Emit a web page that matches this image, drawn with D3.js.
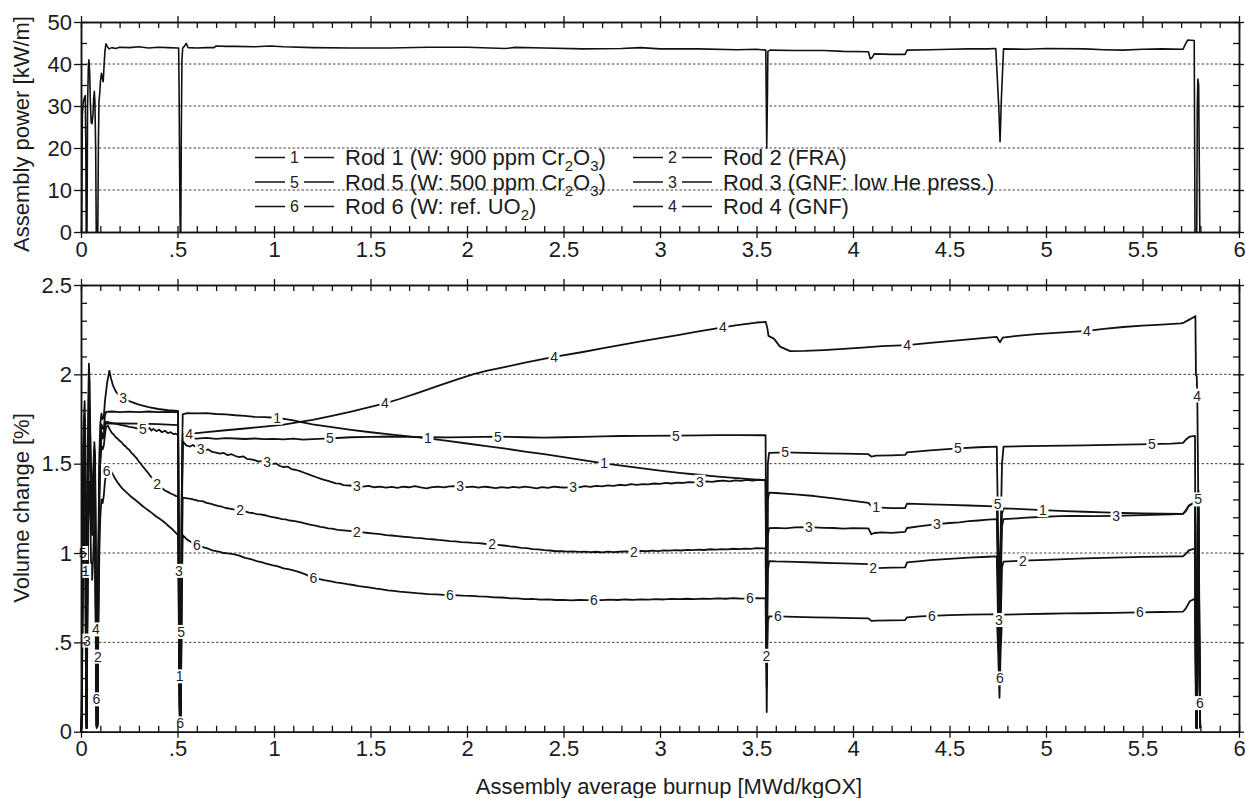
<!DOCTYPE html>
<html>
<head>
<meta charset="utf-8">
<script src="https://cdn.jsdelivr.net/npm/d3@7"></script>
<style>
  body { margin: 0; background: #fff; }
  svg text { font-family: "Liberation Sans", Arial, Helvetica, sans-serif; }
</style>
</head>
<body>
<svg id="chart" width="1246" height="798"></svg>
<script>
// ---------- tick labels ----------
const xTickValues = [0, 0.5, 1, 1.5, 2, 2.5, 3, 3.5, 4, 4.5, 5, 5.5, 6];
const xTickLabels = ["0", ".5", "1", "1.5", "2", "2.5", "3", "3.5", "4", "4.5", "5", "5.5", "6"];
const powerTickValues = [0, 10, 20, 30, 40, 50];
const powerTickLabels = ["0", "10", "20", "30", "40", "50"];
const volTickValues = [0, 0.5, 1, 1.5, 2, 2.5];
const volTickLabels = ["0", ".5", "1", "1.5", "2", "2.5"];

// ---------- assembly power [kW/m] vs burnup ----------
const power = [[0,0],[0.003,0],[0.005,12],[0.007,28],[0.012,31],[0.018,32],[0.022,32.5],[0.025,20],[0.027,0],[0.031,0],[0.034,30],[0.038,39],[0.041,41],[0.045,38],[0.049,30],[0.053,26],[0.057,25.8],[0.062,28],[0.066,32],[0.069,33.5],[0.072,31],[0.076,20],[0.079,0],[0.087,0],[0.09,20],[0.093,31],[0.097,33],[0.101,36],[0.106,37.8],[0.111,36.5],[0.115,35.8],[0.12,40],[0.124,43],[0.129,44.8],[0.136,44.2],[0.145,43.6],[0.16,43.9],[0.18,43.7],[0.2,44.0],[0.25,43.9],[0.3,44.1],[0.35,43.8],[0.4,44.0],[0.45,43.9],[0.5,43.8],[0.506,43.8],[0.508,35],[0.511,15],[0.514,0],[0.517,0],[0.52,25],[0.523,41],[0.527,43.8],[0.535,44.2],[0.545,44.9],[0.555,43.9],[0.6,43.8],[0.65,43.9],[0.69,43.9],[0.7,44.3],[0.75,44.2],[0.8,44.2],[0.9,44.1],[0.98,44.3],[1.05,44.1],[1.2,43.9],[1.4,43.8],[1.6,43.8],[1.8,44.0],[2.0,44.0],[2.2,43.7],[2.25,43.95],[2.4,43.8],[2.6,43.6],[2.8,43.7],[2.9,43.9],[3.0,43.6],[3.2,43.6],[3.4,43.4],[3.5,43.5],[3.548,43.3],[3.551,30],[3.553,20],[3.556,30],[3.559,43],[3.57,43.3],[3.7,43.2],[3.85,43.2],[3.95,43.0],[4.08,42.9],[4.09,41.2],[4.1,41.6],[4.11,42.4],[4.2,42.3],[4.27,42.3],[4.28,43.3],[4.4,43.4],[4.5,43.5],[4.6,43.6],[4.7,43.6],[4.74,43.7],[4.755,30],[4.762,21.5],[4.769,32],[4.78,43.6],[4.9,43.5],[5.0,43.7],[5.2,43.6],[5.3,43.4],[5.4,43.3],[5.5,43.5],[5.6,43.6],[5.71,43.5],[5.725,45.0],[5.735,45.7],[5.768,45.6],[5.772,0],[5.781,0],[5.784,30],[5.787,36.4],[5.791,35],[5.797,0],[5.8,0]];

// ---------- volume change [%] per rod ----------
const rod1 = [[0,0],[0.004,0.1],[0.008,1.1],[0.013,1.6],[0.019,1.75],[0.023,1.5],[0.026,0.3],[0.029,0.03],[0.033,0.9],[0.037,1.65],[0.042,1.85],[0.047,1.7],[0.052,1.35],[0.058,1.25],[0.064,1.4],[0.069,1.58],[0.073,1.5],[0.077,0.7],[0.081,0.04],[0.086,0.05],[0.09,0.9],[0.095,1.45],[0.1,1.62],[0.106,1.72],[0.112,1.7],[0.118,1.69],[0.124,1.77],[0.13,1.79],[0.16,1.792],[0.2,1.788],[0.25,1.791],[0.3,1.789],[0.35,1.792],[0.4,1.788],[0.45,1.79],[0.503,1.788],[0.506,1.2],[0.509,0.5],[0.512,0.12],[0.516,0.1],[0.519,0.6],[0.522,1.3],[0.527,1.776],[0.55,1.783],[0.6,1.781],[0.65,1.783],[0.7,1.778],[0.75,1.776],[0.8,1.771],[0.85,1.768],[0.9,1.762],[0.95,1.761],[1.016,1.757],[1.06,1.749],[1.1,1.742],[1.135,1.734],[1.2,1.72],[1.3,1.704],[1.4,1.689],[1.5,1.676],[1.6,1.664],[1.7,1.653],[1.798,1.642],[1.9,1.628],[2.0,1.613],[2.1,1.598],[2.2,1.584],[2.3,1.568],[2.4,1.553],[2.5,1.537],[2.6,1.52],[2.71,1.502],[2.8,1.489],[2.9,1.475],[3.0,1.461],[3.1,1.449],[3.2,1.438],[3.3,1.428],[3.4,1.419],[3.5,1.411],[3.547,1.408],[3.55,0.95],[3.553,0.5],[3.556,0.95],[3.559,1.3],[3.565,1.338],[3.6,1.336],[3.7,1.328],[3.8,1.319],[3.9,1.306],[4.0,1.292],[4.08,1.281],[4.095,1.262],[4.12,1.256],[4.2,1.251],[4.27,1.252],[4.28,1.276],[4.4,1.272],[4.5,1.269],[4.6,1.266],[4.7,1.262],[4.745,1.26],[4.752,0.95],[4.759,0.6],[4.765,0.95],[4.772,1.22],[4.78,1.25],[4.85,1.247],[4.984,1.24],[5.1,1.235],[5.2,1.231],[5.3,1.227],[5.4,1.224],[5.5,1.222],[5.6,1.22],[5.71,1.219],[5.725,1.235],[5.74,1.265],[5.76,1.278],[5.772,1.28],[5.775,0.6],[5.778,0.03],[5.782,0.02],[5.786,1.15],[5.79,1.25],[5.795,0.5],[5.799,0.02]];

const rod2 = [[0,0],[0.004,0.05],[0.008,0.8],[0.013,1.3],[0.019,1.5],[0.023,1.3],[0.026,0.2],[0.029,0.02],[0.033,0.7],[0.037,1.45],[0.042,1.75],[0.047,1.6],[0.052,1.2],[0.058,1.1],[0.064,1.25],[0.069,1.45],[0.073,1.35],[0.077,0.6],[0.081,0.03],[0.086,0.04],[0.09,0.8],[0.095,1.3],[0.1,1.5],[0.106,1.6],[0.112,1.58],[0.118,1.6],[0.124,1.66],[0.13,1.705],[0.14,1.712],[0.15,1.69],[0.16,1.672],[0.17,1.662],[0.18,1.648],[0.19,1.64],[0.2,1.628],[0.21,1.62],[0.22,1.606],[0.23,1.598],[0.24,1.585],[0.25,1.578],[0.26,1.562],[0.27,1.552],[0.28,1.54],[0.29,1.528],[0.3,1.512],[0.31,1.5],[0.32,1.484],[0.33,1.472],[0.34,1.458],[0.35,1.445],[0.36,1.43],[0.37,1.418],[0.38,1.4],[0.394,1.385],[0.41,1.37],[0.42,1.362],[0.435,1.35],[0.45,1.342],[0.465,1.333],[0.48,1.326],[0.49,1.32],[0.503,1.315],[0.506,0.9],[0.509,0.35],[0.512,0.08],[0.516,0.07],[0.519,0.4],[0.522,0.9],[0.527,1.31],[0.55,1.306],[0.57,1.303],[0.59,1.298],[0.61,1.292],[0.63,1.29],[0.65,1.281],[0.67,1.276],[0.69,1.27],[0.71,1.264],[0.73,1.259],[0.75,1.252],[0.77,1.249],[0.79,1.244],[0.824,1.239],[0.85,1.233],[0.87,1.226],[0.89,1.224],[0.91,1.218],[0.93,1.216],[0.96,1.21],[0.98,1.204],[1.0,1.2],[1.02,1.196],[1.04,1.19],[1.06,1.188],[1.08,1.182],[1.1,1.18],[1.12,1.176],[1.135,1.173],[1.16,1.166],[1.18,1.161],[1.2,1.156],[1.22,1.152],[1.24,1.146],[1.26,1.143],[1.28,1.138],[1.3,1.136],[1.33,1.13],[1.36,1.127],[1.39,1.124],[1.43,1.119],[1.46,1.116],[1.49,1.112],[1.52,1.109],[1.55,1.106],[1.58,1.1],[1.61,1.098],[1.64,1.095],[1.67,1.091],[1.7,1.089],[1.73,1.085],[1.76,1.083],[1.79,1.079],[1.82,1.077],[1.85,1.073],[1.88,1.071],[1.91,1.067],[1.94,1.065],[1.97,1.061],[2.0,1.06],[2.03,1.057],[2.06,1.055],[2.09,1.052],[2.13,1.05],[2.16,1.046],[2.19,1.042],[2.22,1.038],[2.25,1.035],[2.28,1.029],[2.31,1.027],[2.34,1.022],[2.37,1.02],[2.4,1.016],[2.43,1.014],[2.46,1.01],[2.49,1.011],[2.52,1.008],[2.55,1.009],[2.58,1.006],[2.61,1.008],[2.64,1.005],[2.67,1.007],[2.7,1.004],[2.73,1.008],[2.76,1.005],[2.79,1.007],[2.82,1.009],[2.865,1.007],[2.9,1.012],[2.93,1.01],[2.96,1.013],[2.99,1.011],[3.02,1.015],[3.05,1.013],[3.08,1.016],[3.11,1.014],[3.14,1.018],[3.17,1.016],[3.2,1.019],[3.23,1.017],[3.26,1.021],[3.29,1.019],[3.32,1.022],[3.35,1.02],[3.38,1.024],[3.41,1.022],[3.44,1.025],[3.47,1.023],[3.5,1.027],[3.547,1.026],[3.55,0.6],[3.553,0.25],[3.556,0.6],[3.559,0.9],[3.565,0.955],[3.6,0.953],[3.7,0.95],[3.8,0.947],[3.9,0.944],[4.0,0.941],[4.08,0.938],[4.095,0.918],[4.12,0.915],[4.2,0.918],[4.27,0.92],[4.28,0.948],[4.35,0.955],[4.4,0.96],[4.5,0.967],[4.6,0.974],[4.7,0.979],[4.745,0.981],[4.752,0.6],[4.759,0.3],[4.765,0.6],[4.772,0.92],[4.78,0.952],[4.88,0.957],[5.0,0.962],[5.1,0.966],[5.2,0.97],[5.3,0.973],[5.4,0.976],[5.5,0.978],[5.6,0.98],[5.71,0.982],[5.725,0.995],[5.74,1.015],[5.76,1.022],[5.772,1.024],[5.775,0.5],[5.778,0.03],[5.782,0.02],[5.786,0.9],[5.79,1.0],[5.795,0.4],[5.799,0.02]];

const rod3 = [[0,0],[0.004,0.1],[0.008,1.2],[0.013,1.7],[0.019,1.85],[0.023,1.6],[0.026,0.3],[0.029,0.02],[0.033,1.0],[0.037,1.8],[0.041,2.06],[0.045,1.95],[0.05,1.5],[0.056,1.3],[0.063,1.45],[0.069,1.62],[0.073,1.55],[0.077,0.7],[0.081,0.04],[0.086,0.05],[0.09,1.0],[0.095,1.55],[0.1,1.72],[0.106,1.78],[0.112,1.75],[0.118,1.76],[0.124,1.85],[0.135,1.95],[0.147,2.02],[0.155,1.98],[0.165,1.94],[0.18,1.905],[0.2,1.878],[0.218,1.866],[0.25,1.85],[0.3,1.831],[0.35,1.817],[0.4,1.806],[0.45,1.799],[0.503,1.795],[0.506,1.2],[0.509,0.6],[0.512,0.15],[0.516,0.12],[0.519,0.7],[0.522,1.3],[0.527,1.625],[0.545,1.602],[0.565,1.596],[0.58,1.605],[0.6,1.59],[0.62,1.582],[0.64,1.575],[0.66,1.58],[0.68,1.566],[0.7,1.562],[0.72,1.556],[0.74,1.56],[0.76,1.548],[0.78,1.553],[0.8,1.543],[0.82,1.537],[0.84,1.541],[0.86,1.527],[0.88,1.524],[0.9,1.52],[0.92,1.512],[0.94,1.516],[0.964,1.509],[0.99,1.498],[1.01,1.502],[1.03,1.487],[1.05,1.481],[1.07,1.484],[1.09,1.47],[1.11,1.466],[1.135,1.458],[1.16,1.448],[1.18,1.44],[1.2,1.432],[1.22,1.424],[1.24,1.416],[1.26,1.41],[1.28,1.404],[1.3,1.397],[1.32,1.39],[1.34,1.388],[1.36,1.38],[1.39,1.378],[1.43,1.375],[1.46,1.372],[1.49,1.376],[1.52,1.368],[1.55,1.372],[1.58,1.366],[1.61,1.37],[1.64,1.365],[1.67,1.371],[1.7,1.368],[1.73,1.374],[1.76,1.367],[1.79,1.362],[1.82,1.369],[1.85,1.371],[1.88,1.367],[1.91,1.373],[1.964,1.375],[2.0,1.369],[2.03,1.372],[2.06,1.366],[2.09,1.371],[2.12,1.368],[2.15,1.363],[2.18,1.369],[2.21,1.364],[2.24,1.37],[2.27,1.366],[2.3,1.372],[2.33,1.367],[2.36,1.362],[2.39,1.369],[2.42,1.365],[2.45,1.372],[2.48,1.368],[2.51,1.366],[2.55,1.371],[2.58,1.368],[2.61,1.374],[2.64,1.37],[2.67,1.376],[2.7,1.373],[2.73,1.379],[2.76,1.376],[2.79,1.382],[2.82,1.378],[2.85,1.385],[2.88,1.381],[2.91,1.386],[2.94,1.384],[2.97,1.389],[3.0,1.387],[3.03,1.392],[3.06,1.389],[3.09,1.394],[3.12,1.392],[3.15,1.397],[3.18,1.395],[3.207,1.399],[3.24,1.401],[3.27,1.398],[3.3,1.403],[3.33,1.405],[3.36,1.401],[3.39,1.406],[3.42,1.404],[3.45,1.409],[3.48,1.405],[3.51,1.41],[3.547,1.407],[3.55,0.8],[3.553,0.35],[3.556,0.8],[3.559,1.1],[3.565,1.139],[3.6,1.141],[3.65,1.138],[3.7,1.143],[3.772,1.145],[3.85,1.141],[3.9,1.14],[3.95,1.137],[4.0,1.139],[4.08,1.138],[4.095,1.105],[4.11,1.112],[4.15,1.116],[4.2,1.113],[4.27,1.118],[4.28,1.14],[4.35,1.151],[4.435,1.162],[4.5,1.168],[4.55,1.172],[4.6,1.178],[4.65,1.182],[4.7,1.187],[4.745,1.19],[4.752,0.8],[4.759,0.45],[4.765,0.8],[4.772,1.15],[4.78,1.19],[4.85,1.194],[4.9,1.198],[5.0,1.203],[5.07,1.206],[5.142,1.208],[5.25,1.206],[5.363,1.208],[5.45,1.211],[5.55,1.214],[5.65,1.216],[5.71,1.219],[5.725,1.24],[5.74,1.265],[5.76,1.276],[5.772,1.279],[5.775,0.6],[5.778,0.03],[5.782,0.02],[5.786,1.2],[5.79,1.3],[5.795,0.5],[5.799,0.02]];

const rod4 = [[0,0],[0.004,0.08],[0.008,1.0],[0.013,1.5],[0.019,1.68],[0.023,1.4],[0.026,0.25],[0.029,0.02],[0.033,0.85],[0.037,1.6],[0.042,1.8],[0.047,1.68],[0.052,1.3],[0.058,1.22],[0.064,1.38],[0.069,1.55],[0.073,1.45],[0.077,0.65],[0.081,0.03],[0.086,0.04],[0.09,0.85],[0.095,1.42],[0.1,1.6],[0.106,1.68],[0.112,1.66],[0.118,1.65],[0.124,1.71],[0.13,1.725],[0.2,1.726],[0.3,1.724],[0.4,1.721],[0.45,1.719],[0.503,1.716],[0.506,1.1],[0.509,0.45],[0.512,0.1],[0.516,0.09],[0.519,0.5],[0.522,1.2],[0.527,1.665],[0.575,1.668],[0.65,1.677],[0.75,1.687],[0.85,1.697],[0.962,1.709],[1.05,1.719],[1.135,1.734],[1.2,1.745],[1.3,1.768],[1.4,1.792],[1.5,1.818],[1.575,1.838],[1.65,1.862],[1.75,1.898],[1.85,1.935],[1.95,1.972],[2.03,2.0],[2.1,2.02],[2.2,2.042],[2.3,2.065],[2.451,2.098],[2.6,2.125],[2.7,2.145],[2.8,2.165],[2.9,2.185],[3.0,2.203],[3.1,2.221],[3.2,2.24],[3.326,2.263],[3.4,2.275],[3.45,2.283],[3.5,2.29],[3.548,2.293],[3.556,2.26],[3.562,2.215],[3.59,2.2],[3.622,2.155],[3.674,2.13],[3.75,2.131],[3.85,2.136],[3.95,2.142],[4.05,2.15],[4.15,2.158],[4.28,2.164],[4.4,2.176],[4.5,2.186],[4.6,2.196],[4.7,2.205],[4.745,2.21],[4.755,2.19],[4.762,2.18],[4.775,2.205],[4.85,2.215],[4.95,2.225],[5.05,2.232],[5.212,2.243],[5.3,2.255],[5.4,2.265],[5.5,2.273],[5.6,2.278],[5.7,2.285],[5.715,2.29],[5.74,2.305],[5.765,2.32],[5.774,2.326],[5.777,1.995],[5.781,1.99],[5.784,1.86],[5.788,1.42],[5.793,0.6],[5.798,0.03]];

const rod5 = [[0,0],[0.004,0.06],[0.008,0.95],[0.013,1.45],[0.019,1.62],[0.023,1.35],[0.026,0.2],[0.029,0.02],[0.033,0.8],[0.037,1.55],[0.042,1.72],[0.047,1.62],[0.052,1.25],[0.058,1.15],[0.064,1.32],[0.069,1.5],[0.073,1.4],[0.077,0.6],[0.081,0.03],[0.086,0.04],[0.09,0.8],[0.095,1.35],[0.1,1.55],[0.106,1.66],[0.112,1.64],[0.118,1.65],[0.124,1.72],[0.13,1.735],[0.15,1.73],[0.17,1.725],[0.19,1.722],[0.21,1.716],[0.23,1.712],[0.25,1.706],[0.27,1.703],[0.29,1.698],[0.321,1.692],[0.34,1.69],[0.355,1.7],[0.365,1.685],[0.375,1.695],[0.39,1.682],[0.405,1.69],[0.42,1.676],[0.435,1.684],[0.45,1.671],[0.465,1.676],[0.48,1.665],[0.49,1.668],[0.503,1.66],[0.506,1.0],[0.509,0.4],[0.512,0.09],[0.516,0.08],[0.519,0.45],[0.522,1.1],[0.527,1.64],[0.56,1.643],[0.6,1.64],[0.65,1.644],[0.7,1.639],[0.75,1.643],[0.8,1.641],[0.85,1.638],[0.9,1.641],[0.95,1.637],[1.0,1.639],[1.05,1.636],[1.1,1.64],[1.15,1.635],[1.2,1.637],[1.29,1.642],[1.35,1.645],[1.4,1.648],[1.5,1.65],[1.6,1.652],[1.7,1.65],[1.8,1.648],[1.9,1.647],[2.0,1.649],[2.16,1.651],[2.3,1.648],[2.4,1.646],[2.5,1.648],[2.6,1.65],[2.7,1.653],[2.8,1.655],[2.9,1.656],[3.083,1.657],[3.2,1.658],[3.3,1.66],[3.4,1.66],[3.547,1.659],[3.55,1.1],[3.553,0.6],[3.556,1.1],[3.559,1.5],[3.565,1.56],[3.648,1.563],[3.75,1.561],[3.85,1.558],[3.95,1.556],[4.08,1.553],[4.095,1.54],[4.12,1.545],[4.2,1.547],[4.27,1.549],[4.28,1.563],[4.4,1.575],[4.544,1.586],[4.65,1.592],[4.745,1.595],[4.752,1.1],[4.759,0.75],[4.765,1.1],[4.772,1.5],[4.78,1.595],[4.9,1.598],[5.0,1.6],[5.2,1.603],[5.4,1.607],[5.549,1.61],[5.65,1.612],[5.71,1.616],[5.725,1.635],[5.745,1.652],[5.772,1.656],[5.775,0.7],[5.778,0.03],[5.782,0.02],[5.786,1.25],[5.79,1.35],[5.795,0.6],[5.799,0.02]];

const rod6 = [[0,0],[0.004,0.04],[0.008,0.6],[0.013,1.0],[0.019,1.2],[0.023,1.0],[0.026,0.15],[0.029,0.02],[0.033,0.55],[0.037,1.15],[0.042,1.4],[0.047,1.3],[0.052,0.95],[0.058,0.85],[0.064,1.0],[0.069,1.2],[0.073,1.1],[0.077,0.45],[0.081,0.02],[0.086,0.03],[0.09,0.6],[0.095,1.0],[0.1,1.2],[0.106,1.3],[0.112,1.28],[0.118,1.32],[0.124,1.4],[0.133,1.46],[0.14,1.49],[0.145,1.485],[0.155,1.46],[0.165,1.44],[0.175,1.42],[0.19,1.395],[0.2,1.38],[0.215,1.36],[0.23,1.345],[0.245,1.33],[0.26,1.315],[0.275,1.302],[0.29,1.29],[0.305,1.276],[0.32,1.262],[0.335,1.25],[0.35,1.238],[0.365,1.226],[0.38,1.213],[0.395,1.2],[0.41,1.19],[0.425,1.178],[0.44,1.165],[0.455,1.15],[0.47,1.136],[0.485,1.12],[0.503,1.1],[0.506,0.7],[0.509,0.3],[0.512,0.05],[0.516,0.04],[0.519,0.3],[0.522,0.75],[0.527,1.1],[0.55,1.075],[0.57,1.062],[0.6,1.045],[0.62,1.038],[0.64,1.03],[0.66,1.024],[0.68,1.015],[0.7,1.01],[0.72,1.006],[0.74,1.0],[0.76,0.998],[0.79,0.994],[0.82,0.985],[0.85,0.973],[0.88,0.966],[0.91,0.955],[0.94,0.948],[0.96,0.94],[0.99,0.932],[1.02,0.925],[1.05,0.914],[1.08,0.908],[1.11,0.9],[1.135,0.892],[1.16,0.882],[1.18,0.872],[1.204,0.86],[1.23,0.855],[1.26,0.848],[1.29,0.843],[1.32,0.836],[1.35,0.832],[1.38,0.826],[1.41,0.821],[1.44,0.815],[1.47,0.811],[1.5,0.806],[1.53,0.801],[1.56,0.797],[1.59,0.791],[1.62,0.788],[1.65,0.784],[1.68,0.781],[1.71,0.778],[1.74,0.775],[1.77,0.773],[1.8,0.77],[1.84,0.768],[1.88,0.766],[1.912,0.765],[1.95,0.763],[1.98,0.761],[2.02,0.76],[2.06,0.757],[2.1,0.756],[2.14,0.752],[2.18,0.751],[2.22,0.747],[2.26,0.746],[2.3,0.742],[2.34,0.743],[2.38,0.739],[2.42,0.74],[2.46,0.737],[2.5,0.738],[2.54,0.735],[2.58,0.737],[2.62,0.736],[2.658,0.737],[2.7,0.736],[2.74,0.739],[2.78,0.737],[2.82,0.74],[2.86,0.738],[2.9,0.741],[2.94,0.739],[2.98,0.742],[3.02,0.74],[3.06,0.743],[3.1,0.742],[3.14,0.744],[3.18,0.742],[3.22,0.745],[3.26,0.743],[3.3,0.746],[3.34,0.744],[3.38,0.747],[3.42,0.745],[3.466,0.746],[3.5,0.748],[3.547,0.746],[3.55,0.45],[3.553,0.11],[3.556,0.45],[3.559,0.62],[3.565,0.645],[3.611,0.645],[3.7,0.643],[3.8,0.64],[3.9,0.638],[4.0,0.636],[4.08,0.634],[4.095,0.62],[4.12,0.622],[4.2,0.623],[4.27,0.625],[4.28,0.64],[4.35,0.645],[4.409,0.648],[4.5,0.652],[4.6,0.655],[4.7,0.657],[4.745,0.658],[4.752,0.45],[4.759,0.19],[4.765,0.45],[4.772,0.63],[4.78,0.655],[4.9,0.658],[5.0,0.66],[5.1,0.662],[5.2,0.663],[5.35,0.665],[5.487,0.668],[5.6,0.67],[5.71,0.672],[5.725,0.69],[5.745,0.73],[5.772,0.745],[5.775,0.3],[5.778,0.02],[5.782,0.02],[5.786,0.7],[5.79,0.75],[5.795,0.3],[5.799,0.02]];

// burnup positions where each rod's id is written on its curve
const rod1LabelAt = [0.0245, 0.5105, 1.016, 1.798, 2.71, 4.12, 4.984];
const rod2LabelAt = [0.088, 0.394, 0.824, 1.43, 2.13, 2.865, 3.5515, 4.105, 4.88];
const rod3LabelAt = [0.031, 0.218, 0.5075, 0.62, 0.964, 1.43, 1.964, 2.55, 3.207, 3.772, 4.435, 4.7555, 5.363];
const rod4LabelAt = [0.0775, 0.56, 1.575, 2.451, 3.326, 4.28, 5.212, 5.7835];
const rod5LabelAt = [0.0085, 0.321, 0.5195, 1.29, 2.16, 3.083, 3.648, 4.544, 4.7495, 5.549, 5.788];
const rod6LabelAt = [0.0795, 0.133, 0.5135, 0.6, 1.204, 1.912, 2.658, 3.466, 3.611, 4.409, 4.7615, 5.487, 5.797];

// legend entries (column-major, as drawn)
const legendIds = ["1", "5", "6", "2", "3", "4"];
const legendNames = ["Rod 1 (W: 900 ppm Cr_2O_3)", "Rod 5 (W: 500 ppm Cr_2O_3)", "Rod 6 (W: ref. UO_2)",
                     "Rod 2 (FRA)", "Rod 3 (GNF: low He press.)", "Rod 4 (GNF)"];

const rods = [
  { id: "1", data: rod1, labels: rod1LabelAt },
  { id: "2", data: rod2, labels: rod2LabelAt },
  { id: "3", data: rod3, labels: rod3LabelAt },
  { id: "4", data: rod4, labels: rod4LabelAt },
  { id: "5", data: rod5, labels: rod5LabelAt },
  { id: "6", data: rod6, labels: rod6LabelAt }
];

// ---------- layout ----------
const svg = d3.select("#chart");
const FONT = '"Liberation Sans", Arial, Helvetica, sans-serif';
const INK = "#111";

const x = d3.scaleLinear().domain([0, 6]).range([81, 1239]);
const yP = d3.scaleLinear().domain([0, 50]).range([232, 22]);
const yV = d3.scaleLinear().domain([0, 2.5]).range([731.7, 285]);

const xMinor = d3.range(0, 61).map(i => i / 10);
const pMinor = d3.range(0, 11).map(i => i * 5);
const vMinor = d3.range(0, 26).map(i => i / 10);

function grid(y, values) {
  svg.append("g").selectAll("line").data(values).join("line")
    .attr("x1", x(0)).attr("x2", x(6))
    .attr("y1", d => y(d)).attr("y2", d => y(d))
    .attr("stroke", "#444").attr("stroke-width", 1)
    .attr("stroke-dasharray", "2.5,2");
}

function styleAxis(g) {
  g.attr("font-family", FONT).attr("font-size", 22);
  g.select(".domain").attr("stroke", INK).attr("stroke-width", 1.5);
  g.selectAll(".tick line").attr("stroke", INK).attr("stroke-width", 1.3);
  g.selectAll(".tick text").attr("fill", "#1c1c1c");
}

function frame(y, majors, labels, minors) {
  const [y0, y1] = y.range();
  const fmtX = (d, i) => xTickLabels[i];
  const fmtY = (d, i) => labels[i];
  svg.append("g").attr("transform", `translate(0,${y0})`)
    .call(d3.axisBottom(x).tickValues(xTickValues).tickFormat(fmtX).tickSize(6).tickSizeOuter(0).tickPadding(3))
    .call(styleAxis);
  svg.append("g").attr("transform", `translate(0,${y0})`)
    .call(d3.axisBottom(x).tickValues(xMinor).tickFormat("").tickSize(-6).tickSizeOuter(0))
    .call(styleAxis);
  svg.append("g").attr("transform", `translate(0,${y1})`)
    .call(d3.axisTop(x).tickValues(xTickValues).tickFormat("").tickSize(6).tickSizeOuter(0))
    .call(styleAxis);
  svg.append("g").attr("transform", `translate(0,${y1})`)
    .call(d3.axisTop(x).tickValues(xMinor).tickFormat("").tickSize(-6).tickSizeOuter(0))
    .call(styleAxis);
  svg.append("g").attr("transform", `translate(${x(0)},0)`)
    .call(d3.axisLeft(y).tickValues(majors).tickFormat(fmtY).tickSize(7).tickSizeOuter(0).tickPadding(2))
    .call(styleAxis);
  svg.append("g").attr("transform", `translate(${x(0)},0)`)
    .call(d3.axisLeft(y).tickValues(minors).tickFormat("").tickSize(-6).tickSizeOuter(0))
    .call(styleAxis);
  svg.append("g").attr("transform", `translate(${x(6)},0)`)
    .call(d3.axisRight(y).tickValues(majors).tickFormat("").tickSize(5).tickSizeOuter(0))
    .call(styleAxis);
  svg.append("g").attr("transform", `translate(${x(6)},0)`)
    .call(d3.axisRight(y).tickValues(minors).tickFormat("").tickSize(-6).tickSizeOuter(0))
    .call(styleAxis);
}

function valueAt(series, xv) {
  const i = d3.bisector(d => d[0]).left(series, xv);
  if (i <= 0) return series[0][1];
  if (i >= series.length) return series[series.length - 1][1];
  const a = series[i - 1], b = series[i];
  const t = (xv - a[0]) / (b[0] - a[0]);
  return a[1] + t * (b[1] - a[1]);
}

// ---------- top panel: assembly power ----------
grid(yP, [10, 20, 30, 40]);

const lineP = d3.line().x(d => x(d[0])).y(d => yP(d[1]));
svg.append("path").datum(power)
  .attr("d", lineP).attr("fill", "none")
  .attr("stroke", INK).attr("stroke-width", 1.6).attr("stroke-linejoin", "round");

// legend
const legendCols = [255, 633];
const legendRows = [165, 189.5, 214];
const legend = svg.append("g").attr("font-family", FONT);
legendIds.forEach((id, i) => {
  const x0 = legendCols[Math.floor(i / 3)];
  const base = legendRows[i % 3];
  const ly = base - 7.5;
  legend.append("line").attr("x1", x0).attr("x2", x0 + 30).attr("y1", ly).attr("y2", ly)
    .attr("stroke", INK).attr("stroke-width", 1.5);
  legend.append("line").attr("x1", x0 + 49).attr("x2", x0 + 79).attr("y1", ly).attr("y2", ly)
    .attr("stroke", INK).attr("stroke-width", 1.5);
  legend.append("text").attr("x", x0 + 39.5).attr("y", ly).attr("dy", "0.36em")
    .attr("text-anchor", "middle").attr("font-size", 16).attr("fill", "#222").text(id);
  const t = legend.append("text").attr("x", x0 + 90).attr("y", base)
    .attr("font-size", 22).attr("fill", "#1c1c1c");
  const parts = legendNames[i].split(/(_\d)/).filter(s => s.length);
  let shifted = false;
  parts.forEach(p => {
    if (p[0] === "_") {
      t.append("tspan").attr("font-size", 15).attr("dy", shifted ? 0 : 6).text(p.slice(1));
      shifted = true;
    } else {
      t.append("tspan").attr("dy", shifted ? -6 : 0).text(p);
      shifted = false;
    }
  });
});

frame(yP, powerTickValues, powerTickLabels, pMinor);

// ---------- bottom panel: volume change ----------
grid(yV, [0.5, 1, 1.5, 2]);

const lineV = d3.line().x(d => x(d[0])).y(d => yV(d[1]));
svg.append("g").selectAll("path").data(rods).join("path")
  .attr("d", d => lineV(d.data)).attr("fill", "none")
  .attr("stroke", INK).attr("stroke-width", 1.8).attr("stroke-linejoin", "round");

// rod ids written on the curves
const marks = rods.flatMap(r => r.labels.map(b => ({ id: r.id, bx: b, v: valueAt(r.data, b) })));
const mg = svg.append("g").attr("font-family", FONT);
mg.selectAll("rect").data(marks).join("rect")
  .attr("x", d => x(d.bx) - 5.5).attr("y", d => yV(d.v) - 7)
  .attr("width", 11).attr("height", 14).attr("fill", "#fff");
mg.selectAll("text").data(marks).join("text")
  .attr("x", d => x(d.bx)).attr("y", d => yV(d.v)).attr("dy", "0.36em")
  .attr("text-anchor", "middle").attr("font-size", 14).attr("fill", "#222")
  .text(d => d.id);

frame(yV, volTickValues, volTickLabels, vMinor);

// ---------- axis titles ----------
const titles = svg.append("g").attr("font-family", FONT).attr("font-size", 22).attr("fill", "#1c1c1c");
titles.append("text").attr("transform", "translate(29,134) rotate(-90)")
  .attr("text-anchor", "middle").text("Assembly power [kW/m]");
titles.append("text").attr("transform", "translate(29,508) rotate(-90)")
  .attr("text-anchor", "middle").text("Volume change [%]");
titles.append("text").attr("x", 669).attr("y", 794)
  .attr("text-anchor", "middle").text("Assembly average burnup [MWd/kgOX]");
</script>
</body>
</html>
